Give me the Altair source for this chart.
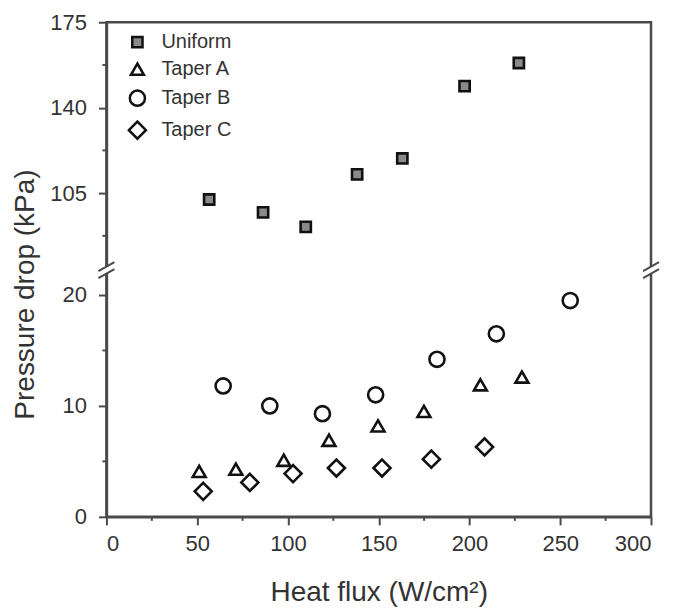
import altair as alt
import pandas as pd

# ---- data ----
uniform_x = [56.6, 86.3, 109.8, 138.1, 163.0, 197.3, 227.2]
uniform_y = [102.4, 97.1, 91.2, 112.7, 119.2, 148.8, 158.3]
taperA_x = [51.1, 71.3, 97.7, 122.6, 149.6, 174.9, 206.0, 228.9]
taperA_y = [4.1, 4.3, 5.1, 6.9, 8.2, 9.5, 11.9, 12.6]
taperB_x = [64.3, 90.0, 119.0, 148.3, 182.1, 214.8, 255.5]
taperB_y = [11.8, 10.0, 9.3, 11.0, 14.2, 16.5, 19.5]
taperC_x = [53.3, 79.0, 102.8, 126.7, 151.8, 179.0, 208.3]
taperC_y = [2.3, 3.1, 3.9, 4.4, 4.4, 5.2, 6.3]

series = ["Uniform", "Taper A", "Taper B", "Taper C"]
x_ticks = [0, 50, 100, 150, 200, 250, 300]
x_minor = [25, 75, 125, 175, 225, 275]
y_ticks = [0, 10, 20, 105, 140, 175]
y_minor = [5, 15, 87.5, 122.5, 157.5]

rows = []
for name, xs, ys in [("Uniform", uniform_x, uniform_y), ("Taper A", taperA_x, taperA_y),
                     ("Taper B", taperB_x, taperB_y), ("Taper C", taperC_x, taperC_y)]:
    for a, b in zip(xs, ys):
        rows.append({"flux": a, "dp": b, "series": name})
df = pd.DataFrame(rows)

W, H = 545, 495
BRK = 248  # pixel position of the axis break
FONT = "Liberation Sans"
AX = "#4a4a4a"

yscale = alt.Scale(domain=[0, 22.25, 73.5, 175], range=[H, BRK, BRK, 0], zero=False, nice=False)
xscale = alt.Scale(domain=[0, 300], zero=False, nice=False)
leg = alt.Legend(title=None)

points = alt.Chart(df).mark_point(filled=True, strokeWidth=2.6, opacity=1).encode(
    x=alt.X("flux:Q", scale=xscale,
            axis=alt.Axis(values=x_ticks, title="Heat flux (W/cm²)", titleX=W / 2, titleY=84,
                          titleBaseline="alphabetic", labelPadding=9)),
    y=alt.Y("dp:Q", scale=yscale,
            axis=alt.Axis(values=y_ticks, title="Pressure drop (kPa)", titleX=-81, titleY=272,
                          titleAngle=-90, titleBaseline="middle", titleAlign="center",
                          labelPadding=12)),
    shape=alt.Shape("series:N", scale=alt.Scale(domain=series,
                                                range=["square", "triangle-up", "circle", "diamond"]),
                    legend=leg),
    fill=alt.Fill("series:N", scale=alt.Scale(domain=series,
                                              range=["#8a8a8a", "white", "white", "white"]),
                  legend=leg),
    stroke=alt.Stroke("series:N", scale=alt.Scale(domain=series,
                                                  range=["#111111", "#111111", "#111111", "#111111"]),
                      legend=leg),
    size=alt.Size("series:N", scale=alt.Scale(domain=series, range=[105, 290, 120, 230]),
                  legend=leg),
)

ymin = pd.DataFrame({"v": y_minor})
xmin = pd.DataFrame({"v": x_minor})
yminor = alt.Chart(ymin).mark_rule(color=AX, strokeWidth=2).encode(
    y=alt.Y("v:Q", scale=yscale), x=alt.value(0), x2=alt.value(-4))
xminor = alt.Chart(xmin).mark_rule(color=AX, strokeWidth=2).encode(
    x=alt.X("v:Q", scale=xscale), y=alt.value(H), y2=alt.value(H + 4))

one = pd.DataFrame({"k": [0]})
deco = []
for cx in [0, W]:
    deco.append(alt.Chart(one).mark_rect(color="white").encode(
        x=alt.value(cx - 4), x2=alt.value(cx + 4), y=alt.value(BRK - 3.5), y2=alt.value(BRK + 3.5)))
    deco.append(alt.Chart(one).mark_rule(color=AX, strokeWidth=2).encode(
        x=alt.value(cx - 8), x2=alt.value(cx + 8), y=alt.value(BRK + 1), y2=alt.value(BRK - 8)))
    deco.append(alt.Chart(one).mark_rule(color=AX, strokeWidth=2).encode(
        x=alt.value(cx - 8), x2=alt.value(cx + 8), y=alt.value(BRK + 8), y2=alt.value(BRK - 1)))

chart = alt.layer(yminor, xminor, *deco, points).properties(
    width=W, height=H,
    autosize=alt.AutoSizeParams(type="none"),
    padding={"left": 98.5, "top": 14, "right": 15, "bottom": 90},
).configure_view(
    stroke=AX, strokeWidth=2.5
).configure_axis(
    domainColor=AX, domainWidth=2.5, tickColor=AX, tickWidth=2, tickSize=8,
    labelFont=FONT, labelFontSize=22, labelColor="#333333",
    titleFont=FONT, titleFontSize=28, titleColor="#333333", titleFontWeight="normal",
    grid=False,
).configure_legend(
    orient="none", legendX=21, legendY=10, labelFont=FONT, labelFontSize=20,
    labelColor="#333333", symbolStrokeWidth=2.5,
    rowPadding=5, labelOffset=14,
)

chart.save("out.html", embed_options={"renderer": "svg", "actions": False})
